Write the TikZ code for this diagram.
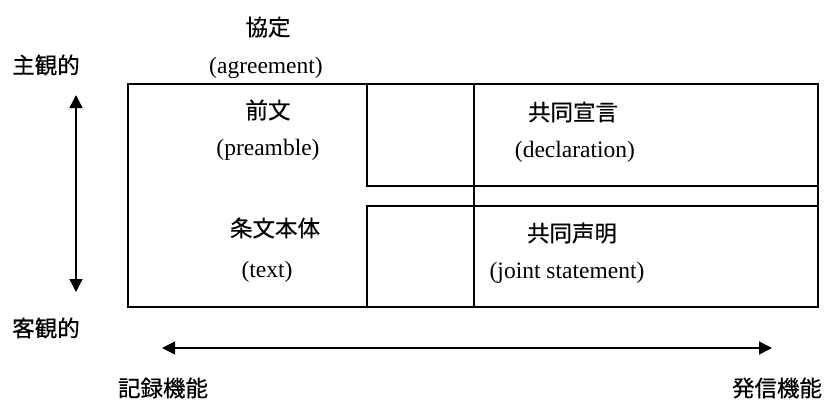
\documentclass[tikz,border=0pt]{standalone}
\usepackage{fontspec}
\setmainfont{Liberation Serif}
\newfontfamily\jpfont[FakeBold=0.45]{Noto Sans CJK JP}
\usetikzlibrary{arrows.meta}
\begin{document}
\begin{tikzpicture}[x=1pt,y=-1pt,
  box/.style={draw=black,line width=1.3pt},
  jp/.style={font=\jpfont\fontsize{22.5}{25}\selectfont,inner sep=0pt},
  en/.style={font=\fontsize{23.5}{26}\selectfont,inner sep=0pt},
  axis/.style={line width=1.3pt,{Triangle[length=13pt,width=13pt]}-{Triangle[length=13pt,width=13pt]}}]
\useasboundingbox (0,0) rectangle (825,402);
% frame
\draw[box] (128,84) rectangle (818,307);
\draw[box] (367,84) rectangle (818,186);
\draw[box] (367,206) rectangle (818,307);
\draw[box] (474,84) -- (474,307);
% texts
\node[jp] (kyotei) at (268,27) {協定};
\node[en] (agree) at (266,68) {(agreement)};
\node[jp] (shukan) at (46,65) {主観的};
\node[jp] (zenbun) at (268,110) {前文};
\node[en] (pre) at (268,150) {(preamble)};
\node[jp] (sengen) at (573,112) {共同宣言};
\node[en] (decl) at (575,152) {(declaration)};
\node[jp] (jobun) at (275,228) {条文本体};
\node[en] (txt) at (267,272) {(text)};
\node[jp] (seimei) at (572,233) {共同声明};
\node[en] (joint) at (567,273) {(joint statement)};
\node[jp] (kyakkan) at (46,328) {客観的};
\node[jp] (kiroku) at (163,388) {記録機能};
\node[jp] (hasshin) at (777,388) {発信機能};
% axes
\coordinate (vtop) at (76,95);
\coordinate (vbot) at (76,292);
\coordinate (hleft) at (162,348);
\coordinate (hright) at (772,348);
\draw[axis] (vtop) -- (vbot);
\draw[axis] (hleft) -- (hright);
\end{tikzpicture}
\end{document}
